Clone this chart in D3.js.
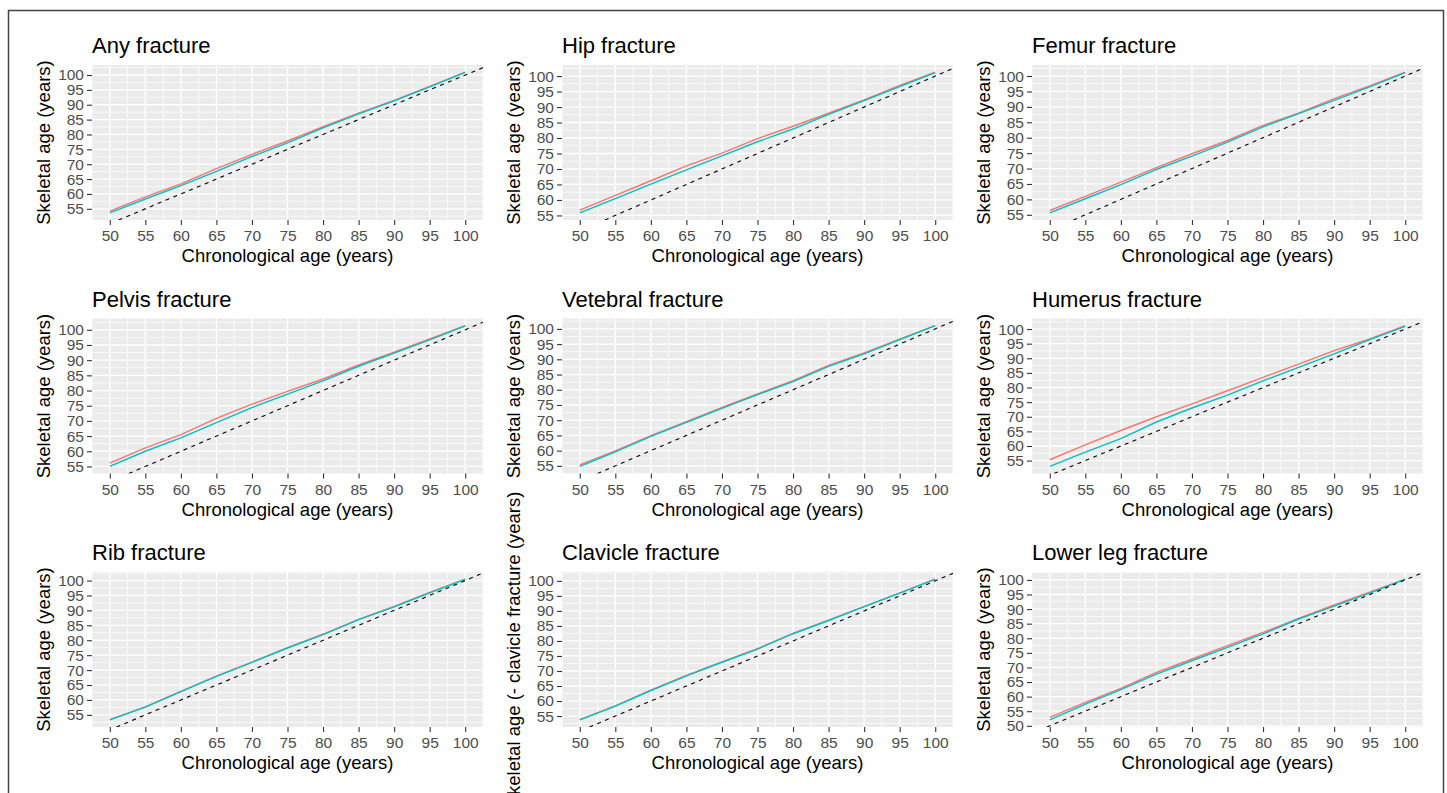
<!DOCTYPE html>
<html lang="en">
<head>
<meta charset="UTF-8">
<title>Skeletal age vs chronological age</title>
<script src="https://d3js.org/d3.v7.min.js"></script>
<style>
  body { margin: 0; background: #fff; }
  svg { display: block; font-family: "Liberation Sans", Arial, sans-serif; }
</style>
</head>
<body>
<div id="chart"></div>
<script>
// values, one reading every 5 years
const ages = [50, 55, 60, 65, 70, 75, 80, 85, 90, 95, 100];
const tickValues = [50, 55, 60, 65, 70, 75, 80, 85, 90, 95, 100];

const titles = ["Any fracture", "Hip fracture", "Femur fracture",
                "Pelvis fracture", "Vetebral fracture", "Humerus fracture",
                "Rib fracture", "Clavicle fracture", "Lower leg fracture"];
const yTitles = ["Skeletal age (years)", "Skeletal age (years)", "Skeletal age (years)",
                 "Skeletal age (years)", "Skeletal age (years)", "Skeletal age (years)",
                 "Skeletal age (years)", "Skeletal age (- clavicle fracture (years)", "Skeletal age (years)"];

const anyRed      = [54.2, 59.0, 63.4, 68.5, 73.3, 77.8, 82.6, 87.2, 91.5, 96.2, 101.0];
const anyCyan     = [53.6, 58.3, 62.8, 67.6, 72.6, 77.2, 82.2, 86.9, 91.3, 96.0, 100.9];
const hipRed      = [56.7, 61.5, 66.2, 71.0, 75.1, 79.8, 83.8, 88.0, 92.3, 97.0, 101.3];
const hipCyan     = [55.8, 60.4, 65.1, 69.7, 74.2, 78.8, 82.9, 87.6, 92.1, 96.6, 101.1];
const femurRed    = [56.4, 61.0, 65.6, 70.3, 74.8, 79.1, 84.0, 88.0, 92.7, 96.8, 101.3];
const femurCyan   = [55.6, 60.2, 64.8, 69.7, 74.0, 78.6, 83.5, 87.8, 92.1, 96.5, 101.1];
const pelvisRed   = [56.1, 61.1, 65.5, 70.8, 75.5, 79.7, 83.8, 88.4, 92.6, 97.0, 101.4];
const pelvisCyan  = [55.0, 60.0, 64.4, 69.4, 74.4, 78.8, 83.2, 88.0, 92.3, 96.7, 101.3];
const vertRed     = [55.3, 59.9, 64.9, 69.5, 74.2, 78.6, 83.0, 88.0, 92.1, 96.6, 101.1];
const vertCyan    = [54.8, 59.6, 64.7, 69.3, 73.9, 78.4, 82.7, 87.7, 91.8, 96.5, 101.1];
const humerusRed  = [55.3, 60.4, 65.3, 70.0, 74.4, 78.9, 83.5, 88.0, 92.6, 96.6, 101.2];
const humerusCyan = [53.0, 57.9, 62.5, 68.2, 73.0, 77.4, 82.3, 86.9, 91.5, 96.4, 100.9];
const ribRed      = [53.4, 57.7, 62.9, 68.0, 72.7, 77.5, 82.0, 87.0, 91.3, 96.0, 100.5];
const ribCyan     = [53.3, 57.6, 62.8, 67.9, 72.6, 77.4, 81.9, 86.9, 91.2, 95.9, 100.4];
const clavRed     = [53.8, 58.4, 63.6, 68.5, 73.0, 77.4, 82.5, 86.9, 91.4, 95.9, 100.6];
const clavCyan    = [53.7, 58.3, 63.5, 68.4, 72.9, 77.3, 82.4, 86.8, 91.4, 95.9, 100.6];
const legRed      = [52.9, 58.0, 62.8, 68.3, 72.9, 77.5, 82.0, 86.8, 91.4, 95.8, 100.3];
const legCyan     = [52.0, 57.4, 62.4, 67.7, 72.3, 76.9, 81.5, 86.6, 91.0, 95.5, 100.3];

const redSeries  = [anyRed, hipRed, femurRed, pelvisRed, vertRed, humerusRed, ribRed, clavRed, legRed];
const cyanSeries = [anyCyan, hipCyan, femurCyan, pelvisCyan, vertCyan, humerusCyan, ribCyan, clavCyan, legCyan];

const W = 1447, H = 793;
const panelW = 391, panelH = 155;
const colLeft = [92, 562, 1032];
const rowTop = [65, 318.5, 572];

const svg = d3.select("#chart").append("svg")
    .attr("width", W)
    .attr("height", H);

svg.append("rect")
    .attr("width", W).attr("height", H)
    .attr("fill", "#fff");

// ggplot style 5% expansion
function expand(ext) {
    const pad = (ext[1] - ext[0]) * 0.05;
    return [ext[0] - pad, ext[1] + pad];
}

titles.forEach(function(title, i) {
    const left = colLeft[i % 3];
    const top = rowTop[Math.floor(i / 3)];
    const red = redSeries[i], cyan = cyanSeries[i];

    const x = d3.scaleLinear()
        .domain(expand(d3.extent(ages)))
        .range([left, left + panelW]);
    const y = d3.scaleLinear()
        .domain(expand(d3.extent(red.concat(cyan))))
        .range([top + panelH, top]);

    const xd = x.domain(), yd = y.domain();
    const g = svg.append("g");

    g.append("rect")
        .attr("x", left).attr("y", top)
        .attr("width", panelW).attr("height", panelH)
        .attr("fill", "#ebebeb");

    const clipId = "clip" + i;
    g.append("clipPath").attr("id", clipId)
        .append("rect")
        .attr("x", left).attr("y", top)
        .attr("width", panelW).attr("height", panelH);

    // minor grid at the half steps
    const xMinor = d3.range(Math.ceil(xd[0] / 2.5) * 2.5, xd[1] + 0.001, 2.5).filter(function(v) { return v % 5 !== 0; });
    const yMinor = d3.range(Math.ceil(yd[0] / 2.5) * 2.5, yd[1] + 0.001, 2.5).filter(function(v) { return v % 5 !== 0; });
    const xMajor = tickValues.filter(function(v) { return v >= xd[0] && v <= xd[1]; });
    const yMajor = tickValues.filter(function(v) { return v >= yd[0] && v <= yd[1]; });

    g.selectAll(".xminor").data(xMinor).enter().append("line")
        .attr("x1", function(d) { return x(d); }).attr("x2", function(d) { return x(d); })
        .attr("y1", top).attr("y2", top + panelH)
        .attr("stroke", "#fff").attr("stroke-width", 0.7);
    g.selectAll(".yminor").data(yMinor).enter().append("line")
        .attr("y1", function(d) { return y(d); }).attr("y2", function(d) { return y(d); })
        .attr("x1", left).attr("x2", left + panelW)
        .attr("stroke", "#fff").attr("stroke-width", 0.7);
    g.selectAll(".xmajor").data(xMajor).enter().append("line")
        .attr("x1", function(d) { return x(d); }).attr("x2", function(d) { return x(d); })
        .attr("y1", top).attr("y2", top + panelH)
        .attr("stroke", "#fff").attr("stroke-width", 1.3);
    g.selectAll(".ymajor").data(yMajor).enter().append("line")
        .attr("y1", function(d) { return y(d); }).attr("y2", function(d) { return y(d); })
        .attr("x1", left).attr("x2", left + panelW)
        .attr("stroke", "#fff").attr("stroke-width", 1.3);

    const line = d3.line()
        .x(function(d, k) { return x(ages[k]); })
        .y(function(d) { return y(d); });

    g.append("path").datum(red)
        .attr("d", line)
        .attr("fill", "none").attr("stroke", "#F8766D").attr("stroke-width", 1.4);
    g.append("path").datum(cyan)
        .attr("d", line)
        .attr("fill", "none").attr("stroke", "#00BFC4").attr("stroke-width", 1.4);

    // identity line y = x
    const a0 = Math.max(xd[0], yd[0]), a1 = Math.min(xd[1], yd[1]);
    g.append("line")
        .attr("clip-path", "url(#" + clipId + ")")
        .attr("x1", x(a0)).attr("y1", y(a0))
        .attr("x2", x(a1)).attr("y2", y(a1))
        .attr("stroke", "#000").attr("stroke-width", 1.1)
        .attr("stroke-dasharray", "4,4.5");

    // axes
    const xAxis = g.append("g")
        .attr("transform", "translate(0," + (top + panelH) + ")")
        .call(d3.axisBottom(x).tickValues(xMajor).tickSize(5).tickPadding(5));
    const yAxis = g.append("g")
        .attr("transform", "translate(" + left + ",0)")
        .call(d3.axisLeft(y).tickValues(yMajor).tickSize(5).tickPadding(3));
    [xAxis, yAxis].forEach(function(ax) {
        ax.select(".domain").remove();
        ax.selectAll(".tick line").attr("stroke", "#333").attr("stroke-width", 1.1);
        ax.selectAll(".tick text")
            .attr("fill", "#4d4d4d")
            .style("font-size", "15.5px")
            .style("font-family", "'Liberation Sans', Arial, sans-serif");
    });

    // titles
    g.append("text")
        .attr("x", left)
        .attr("y", top - 12)
        .style("font-size", "22px")
        .attr("fill", "#000")
        .text(title);

    g.append("text")
        .attr("x", left + panelW / 2)
        .attr("y", top + panelH + 42)
        .attr("text-anchor", "middle")
        .style("font-size", "18.5px")
        .attr("fill", "#000")
        .text("Chronological age (years)");

    g.append("text")
        .attr("transform", "translate(" + (left - 48) + "," + (top + panelH / 2) + ") rotate(-90)")
        .attr("text-anchor", "middle")
        .attr("dy", "0.35em")
        .style("font-size", "18.5px")
        .attr("fill", "#000")
        .text(yTitles[i]);
});

// outer frame, bottom edge is cut off in the reference
svg.append("path")
    .attr("d", "M8.5," + H + " V10.5 H1443.5 V" + H)
    .attr("fill", "none")
    .attr("stroke", "#444")
    .attr("stroke-width", 1.5);
</script>
</body>
</html>
